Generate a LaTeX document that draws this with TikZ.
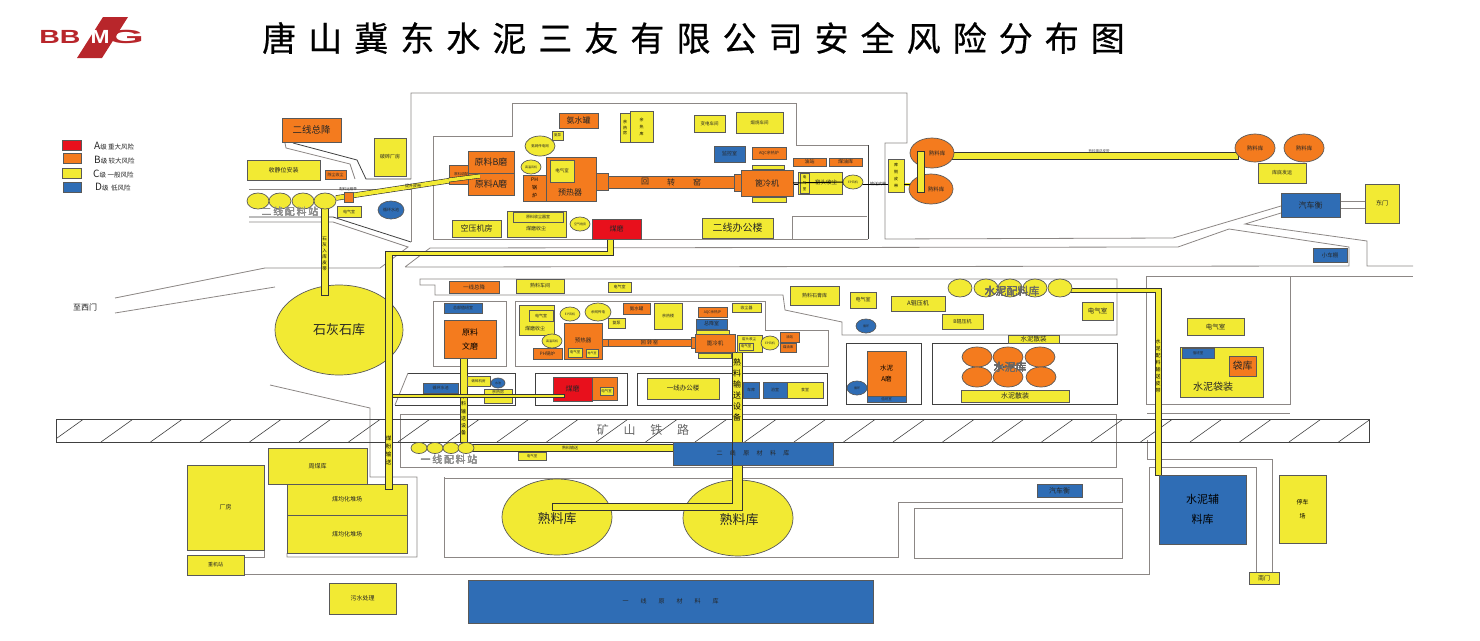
\documentclass[tikz,border=0pt]{standalone}
\usepackage{fontspec}
\setmainfont{Noto Sans CJK SC}
\newfontfamily\titlefont[LetterSpace=35.4,FakeBold=.6]{Noto Sans CJK SC}
\newfontfamily\logofont{Liberation Sans}
\usetikzlibrary{shapes.geometric}
\definecolor{ryellow}{HTML}{F2EA33}
\definecolor{rorange}{HTML}{F47B1E}
\definecolor{rblue}{HTML}{2F6DB5}
\definecolor{rred}{HTML}{E8101C}
\definecolor{rlogo}{HTML}{B8262B}
\definecolor{rgrey}{HTML}{8C8785}
\tikzset{
  fs/.style={font=\fontsize{#1}{#1}\selectfont},
  base/.style={draw=black!65, line width=.7pt, inner sep=0pt, outer sep=0pt, align=center, text=black!85, fs=6},
  yb/.style={base, fill=ryellow},
  ob/.style={base, fill=rorange},
  bb/.style={base, fill=rblue},
  rb/.style={base, fill=rred},
  road/.style={draw=rgrey, line width=.8pt},
  droad/.style={draw=black!75, line width=.8pt},
  belt/.style={draw=black!80, fill=ryellow, line width=.6pt},
  tag/.style={inner sep=0pt, text=black!85, align=center, fs=6},
  stk/.style 2 args={inner sep=0pt, align=center, text=black, font=\fontsize{#1}{#2}\selectfont},
  legend/.style={inner sep=0pt, anchor=west, text=black!85, fs=7},
  logotext/.style={inner sep=0pt, text=rlogo, font=\logofont\bfseries\fontsize{19}{19}\selectfont, xscale=1.5, transform shape}
}
\newcommand{\room}[7]{\node[#1, minimum width={(#5-#3)*1pt}, minimum height={(#6-#4)*1pt}] (#2) at ({(#3+#5)/2},{(#4+#6)/2}) {#7};}
\newcommand{\silo}[7]{\node[#1, ellipse, minimum width={#5*2pt}, minimum height={#6*2pt}] (#2) at (#3,#4) {#7};}
\begin{document}
\begin{tikzpicture}[x=1pt,y=-1pt]
\useasboundingbox (0,0) rectangle (1480,640);

\fill[rlogo] (103,17) -- (128,17) -- (102,58) -- (77,58) -- cycle;
\node[logotext] (logo_b) at (60,36.5) {BB};
\node[logotext, text=white, xscale=.8] (logo_m) at (100,36.5) {M};
\node[logotext, xscale=1.65] (logo_g) at (126,36.5) {G};
\node[inner sep=0pt, font=\titlefont\fontsize{34}{34}\selectfont, anchor=west] (title) at (262,38) {唐山冀东水泥三友有限公司安全风险分布图};

\room{rb}{leg_a}{62}{140}{81}{150}{}
\room{ob}{leg_b}{63}{153}{81}{163}{}
\room{yb}{leg_c}{62}{168}{81}{178}{}
\room{bb}{leg_d}{63}{182}{81}{192}{}
\node[legend] (leg_at) at (94,146) {\fontsize{10}{10}\selectfont A\fontsize{6.5}{6.5}\selectfont 级 重大风险};
\node[legend] (leg_bt) at (94,160) {\fontsize{10}{10}\selectfont B\fontsize{6.5}{6.5}\selectfont 级 较大风险};
\node[legend] (leg_ct) at (93,174) {\fontsize{10}{10}\selectfont C\fontsize{6.5}{6.5}\selectfont 级 一般风险};
\node[legend] (leg_dt) at (95,187) {\fontsize{10}{10}\selectfont D\fontsize{6.5}{6.5}\selectfont 级 \,低风险};

\draw[road] (411,179) -- (411,93) -- (907,93) -- (907,143) -- (885,143) -- (885,239) -- (1173,238) -- (1281,206);
\draw[road] (433,239) -- (433,136) -- (512,136) -- (512,103) -- (796,103) -- (796,145) -- (868,145);
\draw[road] (433,239) -- (868,239);
\draw[droad] (868,145) -- (868,239);
\draw[road] (792,239) -- (792,216) -- (867,216);
\draw[droad] (293,143) -- (357,160) -- (366,179) -- (411,179);
\draw[road] (285,143) -- (286,148) -- (350,164) -- (355,179);
\draw[road] (249,189) -- (411,189) -- (411,242);
\draw[droad] (249,217) -- (333,217) -- (411,242);
\draw[road] (249,222) -- (333,222) -- (408,247) -- (380,268) -- (265,268) -- (115,298);
\draw[road] (115,313) -- (275,287);
\draw[road] (405,267) -- (430,248) -- (1178,247) -- (1229,229) -- (1349,247) -- (1349,266) -- (405,267);
\draw[road] (1281,213) -- (1245,224) -- (1367,241) -- (1367,266) -- (1413,266);
\draw[road] (1146,276) -- (1413,276);
\draw[road] (1146,276) -- (1146,404) -- (1290,404) -- (1290,276);
\draw[road] (1340,201) -- (1365,201) (1340,208) -- (1365,208);
\draw[road] (420,285) -- (420,279) -- (1117,279) -- (1117,335) -- (842,335) -- (842,322) -- (785,310) -- (783,295) -- (435,295) -- (435,285) -- cycle;
\draw[road] (433,301) rectangle (506,366);
\draw[road] (515,301) -- (765,301) -- (765,330) -- (828,330) -- (828,366) -- (515,366) -- cycle;
\draw[droad] (408,373) -- (515,373) -- (515,405) -- (395,405);
\draw[road] (408,373) -- (395,405);
\draw[droad] (535,373) rectangle (627,405);
\draw[droad] (637,373) rectangle (827,405);
\draw[droad] (846,343) rectangle (921,404);
\draw[droad] (932,343) rectangle (1117,404);
\draw[road] (400,414) rectangle (1116,467);
\draw[road] (1147,413) -- (1290,413);
\draw[road] (1147,440) -- (1147,459) -- (1272,459) -- (1272,572);
\draw[road] (1256,572) -- (1256,467) -- (1149,467) -- (1149,574) -- (245,574);
\draw[road] (264,550) -- (264,557) -- (245,557);
\draw[road] (287,553) -- (287,557) -- (417,557) -- (417,477) -- (370,477) -- (370,408) -- (270,385);
\draw[road] (444,477) -- (444,557) -- (898,557) -- (898,502) -- (1122,502) -- (1122,478) -- (444,478);
\draw[road] (914,508) -- (1122,508) -- (1122,558) -- (914,558) -- cycle;

\draw[black!75, line width=.7pt] (56,419) rectangle (1369,442);
\begin{scope}
\clip (56,419) rectangle (1369,442);
\foreach \xa in {2,51.5,...,1360} \draw[black!75, line width=.6pt] (\xa,442) -- (\xa+35,417);
\end{scope}
\node[tag, text=black!60, fs=12] (rail) at (643,430) {矿\quad\ 山\quad\ 铁\quad\ 路};
\node[tag, text=black!90] (west_gate) at (85,307) {\fontsize{8}{8}\selectfont 至西门};

\silo{yb}{lime_silo}{339}{330}{64}{45}{\fontsize{13}{13}\selectfont 石灰石库}
\silo{yb}{clinker_1}{557}{517}{55}{38}{}
\silo{yb}{clinker_2}{738}{518}{55}{38}{}

\draw[belt] (552,503) -- (732,503) -- (732,352) -- (742,352) -- (742,510) -- (552,510) -- cycle;
\node[tag, fs=13] (clinker_1t) at (557,519) {熟料库};
\node[tag, fs=13] (clinker_2t) at (739,520) {熟料库};

\draw[belt] (385,251) -- (607,251) -- (607,238) -- (613,238) -- (613,255) -- (392,255) -- (392,489) -- (385,489) -- cycle;
\node[stk={5.5}{8}] (belt_coal_t) at (388.5,450) {煤\\粉\\输\\送};
\room{belt}{belt_raw1}{461}{358}{466}{442}{}
\node[stk={5}{7.2}] (belt_raw1_t) at (463.5,415) {原\\料\\输\\送\\设\\备};
\room{belt}{belt_lime}{322}{205}{327}{295}{}
\node[stk={4.5}{6}] (belt_lime_t) at (324.5,254) {石\\灰\\入\\库\\皮\\带};
\room{belt}{belt_mix1}{466}{445}{675}{450}{}
\node[tag, fs=4] (belt_mix1_t) at (570,447.5) {熟料输送};
\draw[belt] (1060,288) -- (1161,288) -- (1161,475) -- (1155,475) -- (1155,292) -- (1060,292) -- cycle;
\node[stk={5}{7}] (belt_cem_t) at (1158,366) {水\\泥\\配\\料\\输\\送\\皮\\带};
\draw[draw=black!80, line width=5.4pt] (336,198) -- (480,176);
\draw[draw=ryellow, line width=4.2pt] (336,198) -- (480,176);
\node[tag, fs=4] (belt_raw_t) at (413,186) {提升皮带};
\draw[black, line width=1pt] (793,184) -- (919,184);
\fill[ryellow] (905,183) rectangle (919,186);
\node[tag, fs=4] (belt_cl_t) at (878,184) {输送皮带};
\room{belt}{belt_far}{921}{154}{1238}{157}{}
\node[tag, fs=3.5, text=black!70] (belt_far_t) at (1099,151) {熟料输送皮带};

\foreach \cx/\nm in {258/a,280/b,303/c,325/d} \silo{yb}{mix2_\nm}{\cx}{201}{11}{8}{}
\node[tag, text=black!45, fs=10] (mix2_t) at (290,212) {二\,线\,配\,料\,站};
\foreach \cx/\nm in {419/a,435/b,451/c,466/d} \silo{yb}{mix1_\nm}{\cx}{448}{8}{5.5}{}
\node[tag, text=black!45, fs=10] (mix1_t) at (449,460) {一\,线\,配\,料\,站};
\foreach \cx/\nm in {960/a,986/b,1010/c,1035/d,1060/e} \silo{yb}{mix3_\nm}{\cx}{288}{12}{9}{}
\node[tag, text=black!60, fs=11] (mix3_t) at (1012,291) {水泥配料库};

\room{ob}{sub_2}{282}{118}{341}{142}{\fontsize{9.5}{9.5}\selectfont 二线总降}
\room{yb}{crush_2}{374}{138}{406}{176}{\fontsize{5}{5}\selectfont 破碎厂房}
\room{yb}{store_2}{247}{160}{320}{180}{收静位安装}
\room{ob}{dust_2}{325}{170}{346}{179}{\fontsize{4}{4}\selectfont 除尘收尘}
\room{ob}{lift_2}{344}{192}{353}{202}{}
\node[tag, fs=3.5] (lift_2t) at (348,189) {配料运输带};
\room{yb}{elec_2a}{337}{206}{361}{217}{\fontsize{4}{4}\selectfont 电气室}
\silo{bb}{pool_2}{391}{210}{13}{9}{\fontsize{4}{4}\selectfont 循环水池}

\room{ob}{mill_2b}{468}{151}{514}{173}{\fontsize{9}{9}\selectfont 原料B磨}
\room{ob}{mill_2a}{468}{173}{514}{195}{\fontsize{9}{9}\selectfont 原料A磨}
\room{ob}{feed_2}{449}{165}{468}{184}{}
\draw[draw=black!80, line width=4.6pt] (449,180) -- (480,176);
\draw[draw=ryellow, line width=3.4pt] (449,180) -- (480,176);
\node[tag, fs=3.5] (feed_2t) at (461,174) {原料调配};
\room{ob}{ammo_2}{559}{113}{598}{128}{\fontsize{8}{8}\selectfont 氨水罐}
\room{yb, stk={4}{5.5}}{heat_2a}{620}{113}{630}{142}{余\\热\\房}
\room{yb, stk={4}{7}}{heat_2b}{630}{111}{653}{142}{余\\热\\库}
\room{yb}{pump_2}{552}{131}{563}{140}{\fontsize{3.5}{3.5}\selectfont 氨泵}
\silo{yb}{gen_2}{540}{146}{15}{10}{\fontsize{3.5}{3.5}\selectfont 氨网传电网}
\silo{yb}{fan_2}{531}{167}{10}{7}{\fontsize{3}{3}\selectfont 高温风机}
\room{ob, stk={5}{8}}{boiler_2}{523}{175}{546}{201}{PH\\锅\\炉}
\room{ob}{pre_2}{546}{157}{596}{201}{}
\room{yb}{pre_2e}{550}{160}{574}{182}{\fontsize{4.5}{4.5}\selectfont 电气室}
\node[tag, fs=8] (pre_2t) at (570,192) {预热器};
\room{ob}{neck_2}{596}{173}{608}{190}{}
\room{ob}{kiln_2}{608}{176}{735}{188}{}
\node[tag, fs=8] (kiln_2a) at (645,182) {回};
\node[tag, fs=8] (kiln_2b) at (671,182) {转};
\node[tag, fs=8] (kiln_2c) at (697,182) {窑};
\room{ob}{hood_2}{734}{174}{741}{191}{}
\room{ob}{cool_2}{741}{170}{793}{196}{\fontsize{8}{8}\selectfont 篦冷机}
\room{yb}{air_2}{452}{220}{501}{237}{\fontsize{8}{8}\selectfont 空压机房}
\room{yb}{coal_2}{507}{211}{566}{237}{}
\room{yb}{coal_2i}{513}{212}{563}{222}{\fontsize{4}{4}\selectfont 原料收尘器室}
\node[tag, fs=5] (coal_2t) at (536,229) {煤磨收尘};
\silo{yb}{fan_2b}{580}{224}{10}{7}{\fontsize{3}{3}\selectfont 空气炮房}
\room{rb}{coalmill_2}{592}{219}{641}{239}{\fontsize{7}{7}\selectfont 煤磨}
\room{yb}{var_2}{694}{115}{725}{132}{\fontsize{4.5}{4.5}\selectfont 变电车间}
\room{yb}{calc_2}{736}{112}{783}{133}{\fontsize{4.5}{4.5}\selectfont 煅烧车间}
\room{bb}{ctrl_2}{714}{146}{745}{162}{\fontsize{5}{5}\selectfont 监控室}
\room{ob}{aqc_2}{752}{147}{786}{159}{\fontsize{4}{4}\selectfont AQC余热炉}
\room{yb}{strip_2a}{752}{165}{784}{169}{}
\room{yb}{strip_2b}{752}{197}{786}{202}{}
\room{ob}{oil_2}{793}{158}{826}{166}{\fontsize{5}{5}\selectfont 油站}
\room{ob}{oilb_2}{829}{158}{862}{166}{\fontsize{5}{5}\selectfont 煤油库}
\room{yb}{hdust_2}{798}{172}{842}{194}{}
\room{yb, stk={3.5}{6}}{hdust_2e}{800}{173}{809}{193}{电\\气\\室}
\node[tag, fs=5.5] (hdust_2t) at (826,182) {窑头收尘};
\silo{yb}{epf_2}{853}{182}{10}{7}{\fontsize{3}{3}\selectfont EP风机}
\draw[black, line width=1pt] (cool_2.east) -- (epf_2.west);
\room{yb, stk={4}{7}}{side_2}{888}{159}{904}{192}{库\\侧\\皮\\带}
\draw[black, line width=.9pt] (904,184) -- (919,184);
\room{yb}{office_2}{702}{218}{773}{238}{\fontsize{10}{10}\selectfont 二线办公楼}

\silo{ob}{clk_2a}{932}{153}{22}{15}{}
\silo{ob}{clk_2b}{931}{189}{22}{15}{}
\room{belt}{belt_cl_v}{919}{151}{923}{192}{}
\node[tag, fs=5.5] (clk_2at) at (937,153) {熟料库};
\node[tag, fs=5.5] (clk_2bt) at (936,189) {熟料库};
\silo{ob}{clk_3a}{1255}{148}{20}{14}{\fontsize{5.5}{5.5}\selectfont 熟料库}
\silo{ob}{clk_3b}{1304}{148}{20}{14}{\fontsize{5.5}{5.5}\selectfont 熟料库}
\room{yb}{ship_3}{1258}{163}{1306}{183}{\fontsize{5}{5}\selectfont 库底发运}
\room{bb}{scale_e}{1281}{193}{1340}{217}{\fontsize{8}{8}\selectfont 汽车衡}
\room{yb}{gate_e}{1365}{184}{1399}{223}{\fontsize{6}{6}\selectfont 东门}
\room{bb}{shed_e}{1313}{248}{1347}{262}{\fontsize{5.5}{5.5}\selectfont 小车棚}

\room{ob}{sub_1}{449}{281}{499}{293}{\fontsize{5.5}{5.5}\selectfont 一线总降}
\room{yb}{shop_1}{516}{279}{564}{293}{\fontsize{5}{5}\selectfont 熟料车间}
\room{yb}{elec_1a}{608}{282}{631}{292}{\fontsize{4}{4}\selectfont 电气室}
\room{bb}{duty_1}{444}{303}{482}{313}{\fontsize{4}{4}\selectfont 总部值班室}
\room{ob, stk={8}{14}}{raw_1}{444}{320}{496}{358}{原料\\文磨}
\room{yb}{coal_1}{519}{305}{554}{335}{}
\room{yb}{coal_1e}{529}{310}{553}{321}{\fontsize{4}{4}\selectfont 电气室}
\node[tag, fs=5] (coal_1t) at (535,329) {煤磨收尘};
\silo{yb}{fan_1a}{570}{314}{10}{7}{\fontsize{3}{3}\selectfont E P风机}
\silo{yb}{gen_1}{598}{312}{13}{9}{\fontsize{3.5}{3.5}\selectfont 余网传电}
\room{yb}{pump_1}{608}{318}{625}{328}{\fontsize{4}{4}\selectfont 氨泵}
\room{ob}{ammo_1}{623}{303}{650}{314}{\fontsize{4.5}{4.5}\selectfont 氨水罐}
\room{yb}{heat_1}{654}{303}{682}{329}{\fontsize{4}{4}\selectfont 余热楼}
\silo{yb}{fan_1b}{552}{341}{10}{7}{\fontsize{3}{3}\selectfont 高温风机}
\room{ob}{boiler_1}{533}{348}{562}{359}{\fontsize{4.5}{4.5}\selectfont PH锅炉}
\room{ob}{pre_1}{564}{323}{602}{359}{}
\node[tag, fs=5.5] (pre_1t) at (583,340) {预热器};
\room{yb}{pre_1a}{568}{348}{582}{357}{\fontsize{3.5}{3.5}\selectfont 电气室}
\room{yb}{pre_1b}{586}{349}{598}{357}{\fontsize{3}{3}\selectfont 电气室}
\room{ob}{neck_1}{602}{339}{608}{346}{}
\room{ob}{kiln_1}{608}{339}{691}{346}{\fontsize{5}{5}\selectfont 回 转 窑}
\room{ob}{hood_1}{691}{337}{695}{348}{}
\room{ob}{cool_1}{695}{334}{735}{352}{\fontsize{5.5}{5.5}\selectfont 篦冷机}
\room{ob}{aqc_1}{698}{307}{727}{317}{\fontsize{3.5}{3.5}\selectfont AQC余热炉}
\room{bb}{ctrl_1}{696}{319}{727}{329}{\fontsize{5}{5}\selectfont 总降室}
\room{yb}{strip_1a}{696}{330}{729}{334}{}
\room{yb}{strip_1b}{698}{353}{731}{358}{}
\room{yb}{top_1}{732}{303}{761}{312}{\fontsize{4}{4}\selectfont 收尘器}
\room{yb}{hdust_1}{737}{335}{762}{352}{}
\node[tag, fs=3.5] (hdust_1t) at (749,339) {窑头收尘};
\room{yb}{hdust_1e}{739}{343}{753}{350}{\fontsize{3.5}{3.5}\selectfont 电气室}
\silo{yb}{epf_1}{770}{343}{9}{7}{\fontsize{3}{3}\selectfont EP风机}
\room{ob}{oil_1}{780}{332}{799}{342}{\fontsize{3.5}{3.5}\selectfont 油站}
\room{ob}{oilb_1}{780}{343}{796}{352}{\fontsize{3.5}{3.5}\selectfont 煤油库}
\room{yb}{gyp_1}{790}{286}{839}{305}{\fontsize{5}{5}\selectfont 熟料石膏库}
\room{yb}{office_1}{647}{378}{719}{399}{\fontsize{6.5}{6.5}\selectfont 一线办公楼}
\room{bb}{garage_1}{743}{382}{759}{398}{\fontsize{4}{4}\selectfont 车库}
\room{bb}{bath_1}{763}{382}{787}{398}{\fontsize{4}{4}\selectfont 浴室}
\room{yb}{canteen_1}{787}{382}{823}{398}{\fontsize{4}{4}\selectfont 食堂}

\room{rb}{coalmill_1}{553}{377}{592}{401}{\fontsize{7}{7}\selectfont 煤磨}
\room{ob}{coal_1b}{592}{377}{617}{400}{}
\room{yb}{coal_1be}{600}{387}{613}{395}{\fontsize{3.5}{3.5}\selectfont 电气室}
\room{bb}{pool_1}{423}{383}{458}{393}{\fontsize{4}{4}\selectfont 循环水池}
\room{yb}{crush_1}{467}{376}{490}{386}{\fontsize{3.5}{3.5}\selectfont 破碎机房}
\silo{bb}{pool_1b}{498}{383}{7}{5}{\fontsize{3}{3}\selectfont 水池}
\room{yb}{heat_1b}{484}{389}{512}{403}{}
\draw[belt] (392,394.5) rectangle (564,397);
\node[tag, fs=4] (heat_1bt) at (498,392) {余热房};

\room{bb}{raw_store_2}{673}{442}{833}{465}{\fontsize{6}{6}\selectfont 二\quad\ 线\quad\ 原\quad\ 材\quad\ 料\quad\ 库}
\draw[black!80, line width=.6pt] (732,442) -- (732,465);
\room{yb}{elec_1b}{518}{452}{546}{460}{\fontsize{3.5}{3.5}\selectfont 电气室}
\room{bb}{scale_s}{1037}{484}{1082}{497}{\fontsize{7}{7}\selectfont 汽车衡}

\room{yb}{coal_shed}{268}{448}{367}{484}{\fontsize{6}{6}\selectfont 周煤库}
\room{yb}{yard_a}{287}{484}{407}{515}{\fontsize{6}{6}\selectfont 煤均化堆场}
\room{yb}{yard_b}{287}{515}{407}{553}{\fontsize{6}{6}\selectfont 煤均化堆场}
\draw[belt] (385,484) -- (385,489) -- (392,489) -- (392,484);
\room{yb}{work_s}{187}{465}{264}{550}{\fontsize{6}{6}\selectfont 厂房}
\room{yb}{heavy_s}{187}{555}{244}{575}{\fontsize{5}{5}\selectfont 重机站}
\room{yb}{sewage}{329}{583}{396}{614}{\fontsize{6}{6}\selectfont 污水处理}
\room{bb}{raw_store_1}{468}{580}{873}{623}{\fontsize{6}{6}\selectfont 一\qquad 线\qquad 原\qquad 材\qquad 料\qquad 库}

\node[stk={8}{11}] (belt_clinker_t) at (737,390) {熟\\料\\输\\送\\设\\备};

\room{yb}{elec_3a}{850}{292}{876}{308}{\fontsize{5}{5}\selectfont 电气室}
\room{yb}{press_a}{891}{296}{945}{311}{\fontsize{6}{6}\selectfont A辊压机}
\room{yb}{press_b}{942}{314}{983}{329}{\fontsize{5}{5}\selectfont B辊压机}
\room{yb}{elec_3b}{1082}{302}{1113}{320}{\fontsize{6.5}{6.5}\selectfont 电气室}
\silo{bb}{pool_3}{866}{326}{10}{7}{\fontsize{3}{3}\selectfont 循环}
\room{yb}{bulk_a}{1008}{335}{1059}{343}{\fontsize{6.5}{6.5}\selectfont 水泥散装}
\foreach \cx/\cy/\nm in {977/357/a,1008/357/b,1040/357/c,977/377/d,1008/377/e,1041/377/f} \silo{ob}{cem_\nm}{\cx}{\cy}{15}{10}{}
\node[tag, text=black!60, fs=11] (cem_t) at (1010,367) {水泥库};
\room{yb}{bulk_b}{961}{390}{1069}{402}{\fontsize{7}{7}\selectfont 水泥散装}
\room{ob, stk={6.5}{11}}{cmill_a}{867}{351}{906}{396}{水泥\\A磨}
\room{bb}{cmill_d}{867}{396}{906}{402}{\fontsize{3.5}{3.5}\selectfont 值班室}
\silo{bb}{pool_4}{857}{388}{10}{7}{\fontsize{3}{3}\selectfont 循环}
\room{yb}{elec_4}{1187}{318}{1244}{335}{\fontsize{6.5}{6.5}\selectfont 电气室}
\room{yb}{pack}{1180}{347}{1263}{397}{}
\room{bb}{pack_d}{1182}{348}{1214}{358}{\fontsize{3.5}{3.5}\selectfont 值班室}
\room{ob}{pack_s}{1229}{356}{1256}{376}{\fontsize{10}{10}\selectfont 袋库}
\node[tag, fs=10] (pack_t) at (1213,387) {水泥袋装};
\room{bb, stk={11}{20}}{cem_store}{1159}{475}{1246}{544}{水泥辅\\料库}
\room{yb, stk={6}{14}}{park_s}{1279}{475}{1326}{543}{停车\\场}
\room{yb}{gate_s}{1249}{572}{1279}{584}{\fontsize{6}{6}\selectfont 南门}
\end{tikzpicture}
\end{document}
